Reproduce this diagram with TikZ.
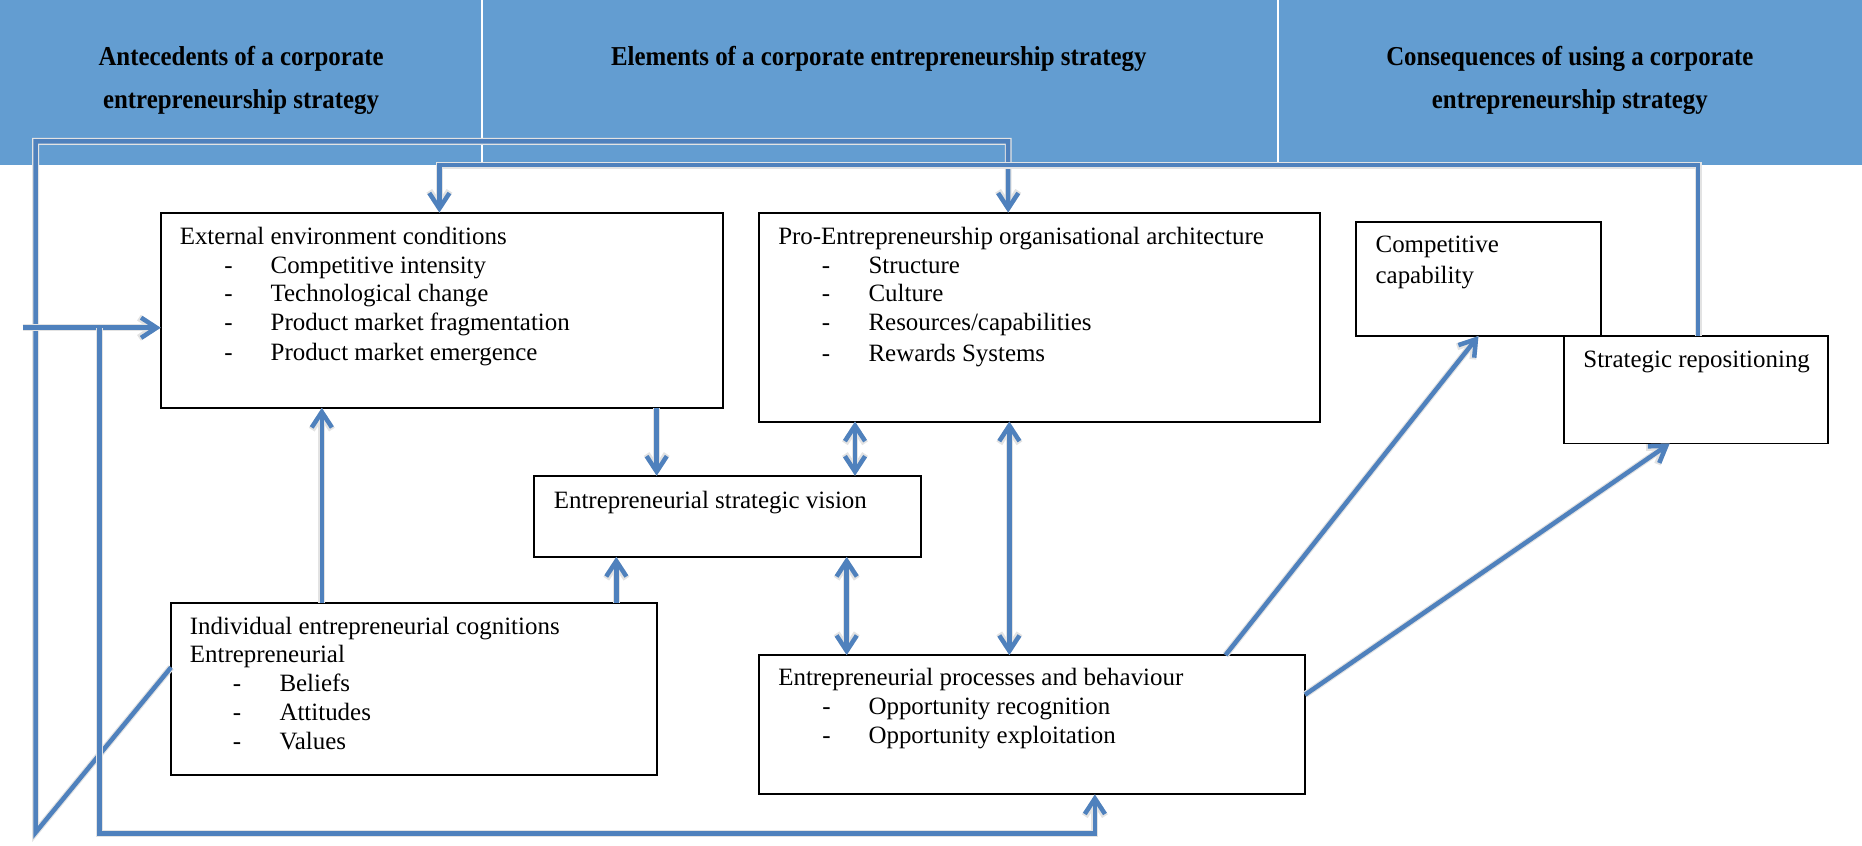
\documentclass[tikz,border=0pt]{standalone}
\usepackage{fontspec}
\setmainfont{Liberation Serif}
\newfontfamily\headfont[FakeStretch=0.91]{Liberation Serif}
\usetikzlibrary{arrows.meta,calc}
\definecolor{bandblue}{RGB}{99,157,209}
\definecolor{linkblue}{RGB}{79,129,189}
\begin{document}
\begin{tikzpicture}[x=0.5pt,y=-0.5pt,
  band/.style={fill=bandblue, draw=none, minimum height=69.5pt, anchor=north west, inner sep=0pt, outer sep=0pt},
  hd/.style={font=\headfont\bfseries\fontsize{11.5pt}{14pt}\selectfont, anchor=base, inner sep=0pt},
  box/.style={draw=black, line width=0.8pt, fill=white, anchor=north west, inner sep=0pt, outer sep=0pt},
  txt/.style={font=\fontsize{10.5pt}{12.5pt}\selectfont, anchor=base west, inner sep=0pt},
  dsh/.style={font=\fontsize{10.5pt}{12.5pt}\selectfont, anchor=base, inner sep=0pt},
  link/.style={draw=linkblue, line width=1.9pt, preaction={draw=black!11, line width=2.9pt}},
  tip/.style={-{Straight Barb[length=6.5pt,width=8.5pt]}},
  dtip/.style={{Straight Barb[length=6.5pt,width=8.5pt]}-{Straight Barb[length=6.5pt,width=8.5pt]}}
]
\useasboundingbox (0,0) rectangle (1568,712);

% header band with its three columns
\node[band, minimum width=202.5pt] (hA) at (0,0) {};
\node[band, minimum width=334pt] (hB) at (407,0) {};
\node[band, minimum width=245.5pt] (hC) at (1077,0) {};
\node[hd] (hA1) at (203,55.5) {Antecedents of a corporate};
\node[hd] (hA2) at (203,91.5) {entrepreneurship strategy};
\node[hd] (hB1) at (740,55.5) {Elements of a corporate entrepreneurship strategy};
\node[hd] (hC1) at (1322,55.5) {Consequences of using a corporate};
\node[hd] (hC2) at (1322,91.5) {entrepreneurship strategy};

% boxes
\node[box, minimum width=236.9pt, minimum height=82.25pt] (ext) at (135.3,179) {};
\node[box, minimum width=236.25pt, minimum height=88pt] (pro) at (639,179) {};
\node[box, minimum width=103pt, minimum height=48pt] (comp) at (1142,187) {};
\node[box, minimum width=111.25pt, minimum height=45.25pt] (strat) at (1317,283) {};
\node[box, minimum width=162.7pt, minimum height=34.2pt] (vis) at (450,400.6) {};
\node[box, minimum width=204.5pt, minimum height=72.7pt] (ind) at (144,507.6) {};
\node[box, minimum width=230pt, minimum height=58.7pt] (proc) at (639,551.6) {};

% external environment
\node[txt] (e0) at (151,205.5) {External environment conditions};
\node[dsh] (ed1) at (192.5,230.5) {-};
\node[txt] (e1) at (227.5,230.5) {Competitive intensity};
\node[dsh] (ed2) at (192.5,254) {-};
\node[txt] (e2) at (227.5,254) {Technological change};
\node[dsh] (ed3) at (192.5,278.5) {-};
\node[txt] (e3) at (227.5,278.5) {Product market fragmentation};
\node[dsh] (ed4) at (192.5,303.5) {-};
\node[txt] (e4) at (227.5,303.5) {Product market emergence};

% organisational architecture
\node[txt] (p0) at (655,206) {Pro-Entrepreneurship organisational architecture};
\node[dsh] (pd1) at (695.6,230.5) {-};
\node[txt] (p1) at (731,230.5) {Structure};
\node[dsh] (pd2) at (695.6,254) {-};
\node[txt] (p2) at (731,254) {Culture};
\node[dsh] (pd3) at (695.6,278.5) {-};
\node[txt] (p3) at (731,278.5) {Resources/capabilities};
\node[dsh] (pd4) at (695.6,304.5) {-};
\node[txt] (p4) at (731,304.5) {Rewards Systems};

% consequences
\node[txt] (k1) at (1158,212.5) {Competitive};
\node[txt] (k2) at (1158,239) {capability};
\node[txt] (s1) at (1333,309.5) {Strategic repositioning};

% vision
\node[txt] (v0) at (466,428) {Entrepreneurial strategic vision};

% cognitions
\node[txt] (i0) at (159.5,534.5) {Individual entrepreneurial cognitions};
\node[txt] (i1) at (159.5,558) {Entrepreneurial};
\node[dsh] (id2) at (199.6,582.5) {-};
\node[txt] (i2) at (235,582.5) {Beliefs};
\node[dsh] (id3) at (199.6,607) {-};
\node[txt] (i3) at (235,607) {Attitudes};
\node[dsh] (id4) at (199.6,631) {-};
\node[txt] (i4) at (235,631) {Values};

% processes
\node[txt] (r0) at (655,577.5) {Entrepreneurial processes and behaviour};
\node[dsh] (rd1) at (696,601.5) {-};
\node[txt] (r1) at (731,601.5) {Opportunity recognition};
\node[dsh] (rd2) at (696,626) {-};
\node[txt] (r2) at (731,626) {Opportunity exploitation};

% routing points
\coordinate (c1) at (30,701);
\coordinate (c2) at (30,119);
\coordinate (c3) at (849,119);
\coordinate (c4) at (1430,139);
\coordinate (c5) at (370,139);
\coordinate (c6) at (19,276);
\coordinate (c7) at (84,276);
\coordinate (c8) at (84,702);
\coordinate (c9) at (922,702);
\coordinate (x1) at (271,0);
\coordinate (x2) at (519,0);
\coordinate (x3) at (553,0);
\coordinate (x4) at (720,0);
\coordinate (x5) at (713,0);
\coordinate (x6) at (850,0);

% feedback loops
\draw[link,tip] ($(ind.north west)+(0,54.4)$) -- (c1) -- (c2) -- (c3) -- (c3 |- pro.north);
\draw[link,tip] (c4 |- strat.north) -- (c4) -- (c5) -- (c5 |- ext.north);
\draw[link,tip] (c6) -- (c6 -| ext.west);
\draw[link,tip] (c7) -- (c8) -- (c9) -- (c9 |- proc.south);

% links between the elements
\draw[link,tip] (x1 |- ind.north) -- (x1 |- ext.south);
\draw[link,tip] (x2 |- ind.north) -- (x2 |- vis.south);
\draw[link,tip] (x3 |- ext.south) -- (x3 |- vis.north);
\draw[link,dtip] (x4 |- pro.south) -- (x4 |- vis.north);
\draw[link,dtip] (x5 |- vis.south) -- (x5 |- proc.north);
\draw[link,dtip] (x6 |- pro.south) -- (x6 |- proc.north);

% outcomes
\draw[link,tip] ($(proc.north west)+(393,0)$) -- ($(comp.south west)+(103,0)$);
\draw[link,tip] ($(proc.north east)+(0,33.4)$) -- ($(strat.south west)+(89,0)$);
\end{tikzpicture}
\end{document}
